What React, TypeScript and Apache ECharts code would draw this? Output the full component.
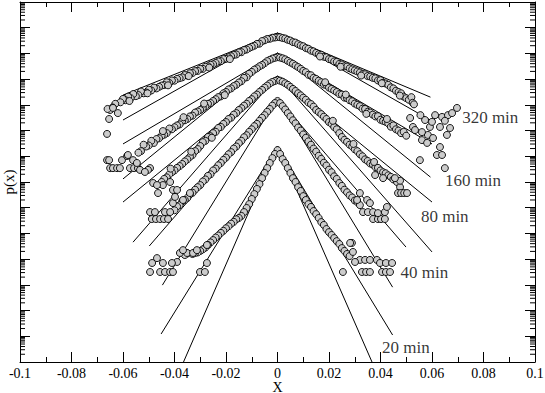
import React, { useEffect, useRef } from "react";
import * as echarts from "echarts";

// x tick labels are produced by the axis (-0.1 ... 0.1, step 0.02)
// y values below are log10 p(x) (the p(x) axis is logarithmic, 14 decades, unlabeled)

const c320: number[][] = [
  [0, -1.36], [-0.001, -1.38], [-0.002, -1.39], [-0.003, -1.43], [-0.004, -1.44], [-0.005, -1.49], [-0.006, -1.52], [-0.007, -1.62], [-0.008, -1.63], [-0.009, -1.70],
  [-0.010, -1.74], [-0.011, -1.79], [-0.012, -1.85], [-0.013, -1.87], [-0.014, -1.95], [-0.015, -1.96], [-0.016, -2.04], [-0.017, -2.06], [-0.018, -2.11], [-0.019, -2.15],
  [-0.020, -2.21], [-0.021, -2.22], [-0.022, -2.30], [-0.023, -2.31], [-0.024, -2.37], [-0.025, -2.42], [-0.026, -2.44], [-0.027, -2.50], [-0.028, -2.52], [-0.029, -2.60],
  [-0.030, -2.60], [-0.031, -2.68], [-0.032, -2.69], [-0.033, -2.76], [-0.034, -2.77], [-0.035, -2.86], [-0.036, -2.84], [-0.037, -2.93], [-0.038, -2.96], [-0.039, -2.99],
  [-0.040, -3.06], [-0.041, -3.05], [-0.042, -3.15], [-0.043, -3.12], [-0.044, -3.23], [-0.045, -3.25], [-0.046, -3.30], [-0.047, -3.36], [-0.048, -3.33], [-0.049, -3.44],
  [-0.050, -3.41], [-0.051, -3.52], [-0.052, -3.55], [-0.053, -3.48], [-0.054, -3.62], [-0.055, -3.66], [-0.056, -3.58], [-0.057, -3.74], [-0.058, -3.68], [-0.059, -3.82],
  [-0.060, -3.77], [-0.061, -3.90], [-0.062, -4.32], [-0.063, -3.96], [-0.064, -4.10], [-0.065, -4.20], [-0.066, -4.16], [-0.0654, -4.55], [-0.0639, -4.12],
  [-0.0185, -2.22], [-0.0265, -2.55], [-0.0345, -2.88], [-0.0425, -3.24], [-0.0505, -3.55], [-0.0575, -3.85],
  [0.001, -1.37], [0.002, -1.40], [0.003, -1.42], [0.004, -1.47], [0.005, -1.50], [0.006, -1.56], [0.007, -1.58], [0.008, -1.64], [0.009, -1.69],
  [0.010, -1.72], [0.011, -1.79], [0.012, -1.82], [0.013, -1.89], [0.014, -1.92], [0.015, -1.98], [0.016, -2.03], [0.017, -2.05], [0.018, -2.13], [0.019, -2.15],
  [0.020, -2.22], [0.021, -2.24], [0.022, -2.31], [0.023, -2.33], [0.024, -2.41], [0.025, -2.43], [0.026, -2.50], [0.027, -2.51], [0.028, -2.58], [0.029, -2.62],
  [0.030, -2.66], [0.031, -2.70], [0.032, -2.74], [0.033, -2.80], [0.034, -2.81], [0.035, -2.88], [0.036, -2.90], [0.037, -2.95], [0.038, -2.97], [0.039, -3.05],
  [0.040, -3.04], [0.041, -3.14], [0.042, -3.17], [0.043, -3.22], [0.044, -3.32], [0.045, -3.36], [0.046, -3.45], [0.047, -3.50], [0.048, -3.55], [0.049, -3.68],
  [0.050, -3.74], [0.051, -3.80], [0.052, -3.70], [0.0525, -3.92], [0.053, -3.98],
  [0.0165, -2.12], [0.0245, -2.52], [0.0325, -2.86], [0.0405, -3.16], [0.0475, -3.64],
  [0.0515, -4.51], [0.0526, -4.86], [0.0573, -4.59], [0.0612, -4.40], [0.0639, -4.47], [0.0662, -4.40], [0.0678, -4.32], [0.0697, -4.12],
  [0.0631, -4.86], [0.0592, -4.86], [0.0600, -4.66], [0.0650, -4.62], [0.0555, -4.40],
];

const c160: number[][] = [
  [0, -2.14], [-0.001, -2.17], [-0.002, -2.20], [-0.003, -2.25], [-0.004, -2.30], [-0.005, -2.38], [-0.006, -2.45], [-0.007, -2.50], [-0.008, -2.58], [-0.009, -2.63],
  [-0.010, -2.72], [-0.011, -2.79], [-0.012, -2.93], [-0.013, -2.95], [-0.014, -3.08], [-0.015, -3.13], [-0.016, -3.22], [-0.017, -3.27], [-0.018, -3.36], [-0.019, -3.40],
  [-0.020, -3.50], [-0.021, -3.55], [-0.022, -3.67], [-0.023, -3.70], [-0.024, -3.78], [-0.025, -3.85], [-0.026, -3.93], [-0.027, -3.96], [-0.028, -4.06], [-0.029, -4.12],
  [-0.030, -4.20], [-0.031, -4.26], [-0.032, -4.30], [-0.033, -4.42], [-0.034, -4.45], [-0.035, -4.55], [-0.036, -4.60], [-0.037, -4.62], [-0.038, -4.76], [-0.039, -4.80],
  [-0.040, -4.87], [-0.041, -4.95], [-0.042, -4.92], [-0.043, -5.10], [-0.044, -5.16], [-0.045, -5.20], [-0.046, -5.30], [-0.047, -5.33], [-0.048, -5.48], [-0.049, -5.40],
  [-0.050, -5.58], [-0.051, -5.62], [-0.052, -5.55], [-0.053, -5.80], [-0.054, -5.86],
  [-0.0205, -3.62], [-0.0285, -3.95], [-0.0365, -4.48], [-0.0445, -5.02],
  [-0.0650, -6.46], [-0.0639, -6.46], [-0.0623, -6.46], [-0.0612, -6.46], [-0.0573, -6.46], [-0.0557, -6.46], [-0.0542, -6.46],
  [-0.0662, -6.15], [-0.0604, -6.15], [-0.0561, -6.15], [-0.0654, -6.15], [-0.0584, -5.99], [-0.0581, -5.95], [-0.0546, -6.26], [-0.0662, -5.13],
  [0.001, -2.16], [0.002, -2.19], [0.003, -2.23], [0.004, -2.29], [0.005, -2.35], [0.006, -2.40], [0.007, -2.47], [0.008, -2.53], [0.009, -2.60],
  [0.010, -2.68], [0.011, -2.73], [0.012, -2.83], [0.013, -2.85], [0.014, -2.95], [0.015, -2.99], [0.016, -3.06], [0.017, -3.12], [0.018, -3.21], [0.019, -3.23],
  [0.020, -3.33], [0.021, -3.38], [0.022, -3.44], [0.023, -3.50], [0.024, -3.58], [0.025, -3.60], [0.026, -3.72], [0.027, -3.74], [0.028, -3.82], [0.029, -3.86],
  [0.030, -3.95], [0.031, -4.00], [0.032, -4.05], [0.033, -4.15], [0.034, -4.16], [0.035, -4.27], [0.036, -4.30], [0.037, -4.38], [0.038, -4.45], [0.039, -4.44],
  [0.040, -4.58], [0.041, -4.62], [0.042, -4.66], [0.043, -4.72], [0.044, -4.85], [0.045, -4.80], [0.046, -4.95], [0.047, -5.00], [0.048, -5.10], [0.049, -5.05], [0.050, -5.20],
  [0.0185, -3.12], [0.0265, -3.60], [0.0345, -4.35], [0.0425, -4.55],
  [0.0561, -5.37], [0.0581, -5.48], [0.0631, -5.64], [0.0619, -5.95], [0.0639, -5.95], [0.0553, -6.15], [0.0650, -6.46],
  [0.0584, -5.17], [0.0658, -5.17], [0.0561, -5.06], [0.0534, -4.98], [0.0604, -5.29], [0.0670, -4.90],
];

const c80: number[][] = [
  [0, -3.03], [-0.001, -3.07], [-0.002, -3.11], [-0.003, -3.17], [-0.004, -3.25], [-0.005, -3.33], [-0.006, -3.42], [-0.007, -3.50], [-0.008, -3.60], [-0.009, -3.67],
  [-0.010, -3.78], [-0.011, -3.85], [-0.012, -3.96], [-0.013, -4.03], [-0.014, -4.13], [-0.015, -4.20], [-0.016, -4.32], [-0.017, -4.38], [-0.018, -4.50], [-0.019, -4.55],
  [-0.020, -4.67], [-0.021, -4.74], [-0.022, -4.86], [-0.023, -4.90], [-0.024, -5.05], [-0.025, -5.10], [-0.026, -5.22], [-0.027, -5.25], [-0.028, -5.40], [-0.029, -5.45],
  [-0.030, -5.60], [-0.031, -5.72], [-0.032, -5.80], [-0.033, -5.95], [-0.034, -6.02], [-0.035, -6.12], [-0.036, -6.20], [-0.037, -6.30], [-0.038, -6.38], [-0.039, -6.45],
  [-0.040, -6.55], [-0.041, -6.62], [-0.042, -6.70], [-0.043, -6.82], [-0.044, -6.88], [-0.045, -7.00],
  [-0.0255, -5.28], [-0.0335, -5.82], [-0.0415, -6.48],
  [-0.0495, -6.46], [-0.0503, -6.53], [-0.0483, -7.04], [-0.0464, -7.43], [-0.0445, -7.12], [-0.0417, -7.00], [-0.0406, -7.31], [-0.0468, -7.12], [-0.0534, -6.53], [-0.0515, -6.61],
  [0.001, -3.06], [0.002, -3.10], [0.003, -3.16], [0.004, -3.22], [0.005, -3.30], [0.006, -3.38], [0.007, -3.46], [0.008, -3.55], [0.009, -3.63],
  [0.010, -3.72], [0.011, -3.80], [0.012, -3.91], [0.013, -3.97], [0.014, -4.07], [0.015, -4.20], [0.016, -4.28], [0.017, -4.36], [0.018, -4.46], [0.019, -4.55],
  [0.020, -4.67], [0.021, -4.74], [0.022, -4.86], [0.023, -4.95], [0.024, -5.10], [0.025, -5.25], [0.026, -5.36], [0.027, -5.44], [0.028, -5.55], [0.029, -5.62],
  [0.030, -5.73], [0.031, -5.80], [0.032, -5.92], [0.033, -6.00], [0.034, -6.12], [0.035, -6.18], [0.036, -6.28], [0.037, -6.32], [0.038, -6.42], [0.039, -6.45],
  [0.040, -6.55], [0.041, -6.62], [0.042, -6.66], [0.043, -6.74], [0.044, -6.80], [0.045, -6.90],
  [0.0215, -4.62], [0.0295, -5.52], [0.0375, -6.22],
  [0.0464, -7.00], [0.0476, -7.20], [0.0468, -7.43], [0.0480, -7.43], [0.0492, -7.43], [0.0503, -7.43], [0.0476, -6.95], [0.0456, -6.85], [0.0410, -6.85], [0.0379, -6.73],
];

const c40: number[][] = [
  [0, -3.85], [-0.001, -3.93], [-0.002, -4.03], [-0.003, -4.16], [-0.004, -4.27], [-0.005, -4.40], [-0.006, -4.50], [-0.007, -4.62], [-0.008, -4.74], [-0.009, -4.83],
  [-0.010, -4.95], [-0.011, -5.05], [-0.012, -5.18], [-0.013, -5.26], [-0.014, -5.40], [-0.015, -5.49], [-0.016, -5.62], [-0.017, -5.70], [-0.018, -5.84], [-0.019, -5.92],
  [-0.020, -6.05], [-0.021, -6.14], [-0.022, -6.26], [-0.023, -6.35], [-0.024, -6.48], [-0.025, -6.55], [-0.026, -6.70], [-0.027, -6.76], [-0.028, -6.90], [-0.029, -6.98],
  [-0.030, -7.12], [-0.031, -7.20], [-0.032, -7.30], [-0.033, -7.42], [-0.034, -7.48], [-0.035, -7.62], [-0.036, -7.70], [-0.037, -7.75], [-0.038, -7.90], [-0.039, -7.95], [-0.040, -8.10],
  [-0.0495, -8.17], [-0.0476, -8.17], [-0.0437, -8.17], [-0.0417, -8.17], [-0.0488, -8.44], [-0.0472, -8.44], [-0.0456, -8.44], [-0.0441, -8.44], [-0.0425, -8.44],
  [-0.0406, -7.82], [-0.0398, -7.58], [-0.0367, -7.70], [-0.0390, -7.31], [-0.0340, -7.43],
  [0.001, -3.93], [0.002, -4.05], [0.003, -4.18], [0.004, -4.32], [0.005, -4.45], [0.006, -4.60], [0.007, -4.72], [0.008, -4.88], [0.009, -5.00],
  [0.010, -5.15], [0.011, -5.28], [0.012, -5.42], [0.013, -5.55], [0.014, -5.70], [0.015, -5.82], [0.016, -5.98], [0.017, -6.10], [0.018, -6.25], [0.019, -6.36],
  [0.020, -6.52], [0.021, -6.62], [0.022, -6.78], [0.023, -6.88], [0.024, -7.04], [0.025, -7.15], [0.026, -7.30], [0.027, -7.40], [0.028, -7.52], [0.029, -7.60],
  [0.030, -7.72], [0.031, -7.78], [0.032, -7.90],
  [0.0320, -7.43], [0.0348, -7.70], [0.0359, -7.82], [0.0332, -8.17], [0.0351, -8.17], [0.0371, -8.17], [0.0371, -8.44], [0.0390, -8.44], [0.0402, -8.44], [0.0417, -8.44],
  [0.0390, -8.21], [0.0417, -8.17], [0.0425, -7.97], [0.0309, -7.70],
];

const c20: number[][] = [
  [0, -5.76], [-0.001, -5.91], [-0.002, -6.07], [-0.003, -6.26], [-0.004, -6.46], [-0.005, -6.65], [-0.006, -6.85], [-0.007, -7.08], [-0.008, -7.27], [-0.009, -7.47],
  [-0.010, -7.66], [-0.011, -7.86], [-0.012, -8.01], [-0.013, -8.17], [-0.014, -8.32], [-0.015, -8.40], [-0.016, -8.45], [-0.017, -8.55], [-0.018, -8.62], [-0.019, -8.72],
  [-0.020, -8.80], [-0.021, -8.90], [-0.022, -8.98], [-0.023, -9.08], [-0.024, -9.16], [-0.025, -9.26], [-0.026, -9.35], [-0.027, -9.45], [-0.028, -9.55], [-0.029, -9.62],
  [-0.030, -9.68], [-0.031, -9.74], [-0.032, -9.76], [-0.033, -9.80], [-0.035, -9.78], [-0.036, -9.84],
  [-0.0301, -10.50], [-0.0282, -10.50], [-0.0274, -10.15], [-0.0351, -9.76], [-0.0328, -9.76], [-0.0379, -9.76], [-0.0367, -9.65], [-0.0313, -9.65], [-0.0390, -10.11],
  [-0.0495, -10.50], [-0.0456, -10.50], [-0.0437, -10.50], [-0.0417, -10.50], [-0.0406, -10.50], [-0.0487, -10.15], [-0.0445, -10.15], [-0.0410, -10.15], [-0.0468, -9.96], [-0.0274, -9.45],
  [0.001, -5.91], [0.002, -6.11], [0.003, -6.26], [0.004, -6.46], [0.005, -6.65], [0.006, -6.85], [0.007, -7.00], [0.008, -7.20], [0.009, -7.35],
  [0.010, -7.55], [0.011, -7.70], [0.012, -7.86], [0.013, -7.97], [0.014, -8.13], [0.015, -8.25], [0.016, -8.40], [0.017, -8.56], [0.018, -8.67], [0.019, -8.83],
  [0.020, -8.95], [0.021, -9.06], [0.022, -9.18], [0.023, -9.30], [0.024, -9.41], [0.025, -9.57], [0.026, -9.68], [0.027, -9.80], [0.028, -9.88],
  [0.0289, -9.37], [0.0293, -9.72], [0.0282, -9.37], [0.0320, -10.03], [0.0340, -10.03], [0.0359, -10.03], [0.0386, -10.03], [0.0328, -10.50], [0.0344, -10.50], [0.0359, -10.50],
  [0.0254, -10.50], [0.0406, -10.50], [0.0421, -10.50], [0.0437, -10.50], [0.0398, -10.15], [0.0421, -10.15], [0.0445, -10.15], [0.0301, -10.11],
];

// straight reference lines: [left end, peak at x = 0, right end], log10 p
const lines: number[][][] = [
  [[-0.060, -3.62], [0, -1.206], [0.0594, -3.70]],
  [[-0.060, -4.59], [0, -1.206], [0.060, -4.63]],
  [[-0.060, -5.52], [0, -1.984], [0.060, -5.52]],
  [[-0.060, -6.88], [0, -1.984], [0.0594, -6.81]],
  [[-0.060, -7.78], [0, -2.878], [0.060, -7.78]],
  [[-0.0561, -9.34], [0, -2.878], [0.060, -9.72]],
  [[-0.0498, -9.49], [0, -3.734], [0.0499, -9.53]],
  [[-0.0447, -11.01], [0, -3.734], [0.0447, -11.09]],
  [[-0.0452, -12.91], [0, -5.601], [0.0447, -12.95]],
  [[-0.0365, -14.0], [0, -5.601], [0.0367, -14.0]],
];

const curveNames = ["320 min", "160 min", "80 min", "40 min", "20 min"];
const curveData = [c320, c160, c80, c40, c20];

// label anchor points (left edge, vertical centre), in data units
const labelAnchors: number[][] = [
  [0.0717, -4.51],
  [0.0650, -6.96],
  [0.0557, -8.36],
  [0.0478, -10.5],
  [0.0406, -13.42],
];

const yMin = -14;
const yMax = 0;
const logMinorFactors = [2, 3, 4, 5, 6, 7, 8, 9];

const FONT = "Liberation Serif, Times New Roman, serif";

export default function App() {
  const ref = useRef<HTMLDivElement>(null);

  useEffect(() => {
    if (!ref.current) return;
    const chart = echarts.init(ref.current, null, { renderer: "svg" });

    const minorTicks: number[][] = [];
    for (let d = yMin; d < yMax; d++) {
      for (const f of logMinorFactors) minorTicks.push([0, d + Math.log10(f)]);
    }

    const axisLine = { show: true, onZero: false, lineStyle: { color: "#000", width: 1 } };
    const tick = { show: true, inside: true, length: 10, lineStyle: { color: "#000", width: 1 } };
    const minor = { show: true, splitNumber: 2, length: 5, lineStyle: { color: "#000", width: 1 } };

    const series: any[] = [];
    lines.forEach((l) => {
      series.push({
        type: "line",
        data: l,
        symbol: "none",
        lineStyle: { color: "#000", width: 1 },
        z: 2,
        silent: true,
      });
    });
    curveData.forEach((d, i) => {
      series.push({
        name: curveNames[i],
        type: "scatter",
        data: d,
        symbol: "circle",
        symbolSize: 7,
        itemStyle: { color: "#cccccc", borderColor: "#000", borderWidth: 0.9, opacity: 1 },
        z: 3,
      });
    });
    series.push({
      type: "scatter",
      data: labelAnchors.map((p, i) => ({ value: p, name: curveNames[i] })),
      symbolSize: 0,
      z: 4,
      label: {
        show: true,
        position: "right",
        distance: 0,
        formatter: (p: any) => p.name,
        fontFamily: FONT,
        fontSize: 17,
        color: "#000",
      },
    });
    series.push({
      type: "custom",
      data: minorTicks,
      silent: true,
      z: 5,
      clip: false,
      renderItem: (_params: any, api: any) => {
        const v = api.value(1);
        const l = api.coord([-0.1, v]);
        const r = api.coord([0.1, v]);
        return {
          type: "group",
          children: [
            { type: "line", shape: { x1: l[0], y1: l[1], x2: l[0] + 5, y2: l[1] }, style: { stroke: "#000", lineWidth: 1 } },
            { type: "line", shape: { x1: r[0] - 5, y1: r[1], x2: r[0], y2: r[1] }, style: { stroke: "#000", lineWidth: 1 } },
          ],
        };
      },
    });

    chart.setOption({
      animation: false,
      backgroundColor: "#fff",
      grid: { left: 20, right: 10, top: 2, bottom: 31, containLabel: false, outerBoundsMode: "none" },
      xAxis: [
        {
          type: "value",
          position: "bottom",
          min: -0.1,
          max: 0.1,
          interval: 0.02,
          axisLine,
          splitLine: { show: false },
          axisTick: tick,
          minorTick: minor,
          axisLabel: { fontFamily: FONT, fontSize: 14, color: "#000", margin: 5, lineHeight: 12 },
          name: "X",
          nameLocation: "middle",
          nameGap: 19,
          nameMoveOverlap: false,
          nameTextStyle: { fontFamily: FONT, fontSize: 14, color: "#000", lineHeight: 12 },
        },
        {
          type: "value",
          position: "top",
          min: -0.1,
          max: 0.1,
          interval: 0.02,
          axisLine,
          splitLine: { show: false },
          axisTick: tick,
          minorTick: minor,
          axisLabel: { show: false },
        },
      ],
      yAxis: [
        {
          type: "value",
          position: "left",
          min: yMin,
          max: yMax,
          interval: 1,
          axisLine,
          splitLine: { show: false },
          axisTick: tick,
          axisLabel: { show: false },
          name: "p(x)",
          nameLocation: "middle",
          nameGap: 4,
          nameMoveOverlap: false,
          nameTextStyle: { fontFamily: FONT, fontSize: 15, color: "#000" },
        },
        {
          type: "value",
          position: "right",
          min: yMin,
          max: yMax,
          interval: 1,
          axisLine,
          splitLine: { show: false },
          axisTick: tick,
          axisLabel: { show: false },
        },
      ],
      series,
    });

    return () => chart.dispose();
  }, []);

  return (
    <div
      ref={ref}
      style={{ position: "fixed", left: 0, top: 0, width: 545, height: 393, background: "#fff" }}
    />
  );
}
